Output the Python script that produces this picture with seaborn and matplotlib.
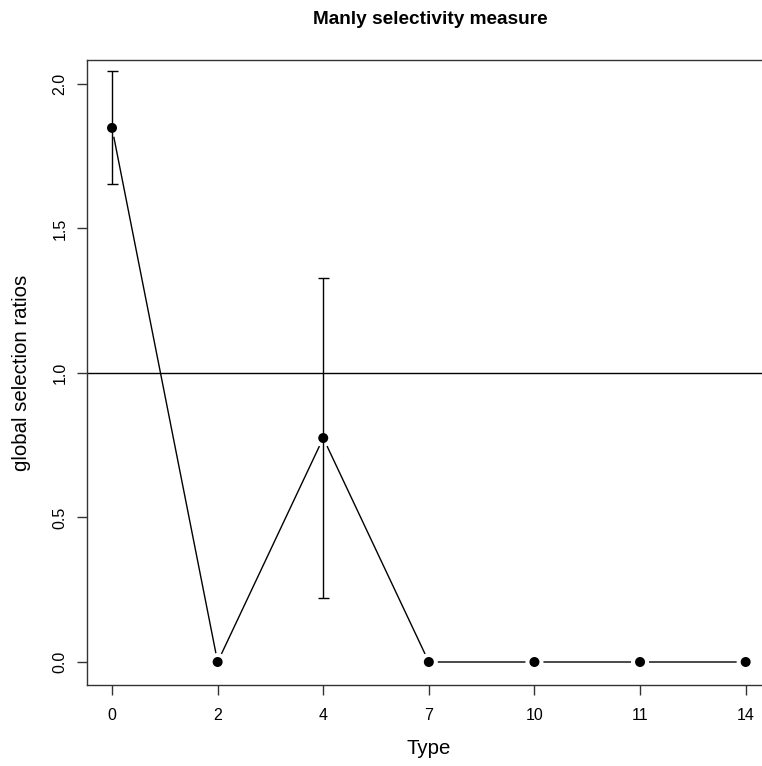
import numpy as np
import pandas as pd
import matplotlib
matplotlib.use("Agg")
import matplotlib.pyplot as plt
import seaborn as sns

# ---- data ----
types = ["0", "2", "4", "7", "10", "11", "14"]
ratios = [1.848, 0.0, 0.775, 0.0, 0.0, 0.0, 0.0]
upper = [2.045, np.nan, 1.329, np.nan, np.nan, np.nan, np.nan]
lower = [1.654, np.nan, 0.221, np.nan, np.nan, np.nan, np.nan]

sns.set_style("white")
plt.rcParams["font.family"] = ["Liberation Sans", "DejaVu Sans"]
plt.rcParams["text.color"] = "black"
plt.rcParams["xtick.labelcolor"] = "black"
plt.rcParams["ytick.labelcolor"] = "black"

df = pd.DataFrame({"type": types, "ratio": ratios, "up": upper, "lo": lower})
df["pos"] = np.arange(1, len(types) + 1)

fig = plt.figure(figsize=(7.62, 7.66), dpi=100)
ax = fig.add_axes([87 / 762, 1 - 685 / 766, (771 - 87) / 762, (685 - 60) / 766])

# connecting line (R type="b": gaps around points)
sns.lineplot(data=df, x="pos", y="ratio", ax=ax, color="black", lw=1.0,
             zorder=1, sort=False)
# white halo to create gaps
sns.scatterplot(data=df, x="pos", y="ratio", ax=ax, s=13.0 ** 2, color="white",
                edgecolor="none", zorder=2, legend=False)
# points
sns.scatterplot(data=df, x="pos", y="ratio", ax=ax, s=7.2 ** 2, color="black",
                edgecolor="none", zorder=4, legend=False)

# error bars
eb = df.dropna()
ax.vlines(eb["pos"], eb["lo"], eb["up"], color="black", lw=1.0, zorder=3)
cap = 0.052
ax.hlines(eb["up"], eb["pos"] - cap, eb["pos"] + cap, color="black", lw=1.0, zorder=3)
ax.hlines(eb["lo"], eb["pos"] - cap, eb["pos"] + cap, color="black", lw=1.0, zorder=3)

# reference line
ax.axhline(1.0, color="black", lw=1.0, zorder=1)

ax.set_xlim(0.763, 7.24)
ax.set_ylim(-0.0796, 2.083)
ax.set_xticks(df["pos"])
ax.set_xticklabels(types)
ax.set_yticks([0.0, 0.5, 1.0, 1.5, 2.0])
ax.set_yticklabels(["0.0", "0.5", "1.0", "1.5", "2.0"], rotation=90, va="center")

for s in ax.spines.values():
    s.set_color("#333333")
    s.set_linewidth(1.0)
ax.tick_params(axis="both", direction="out", length=7.2, width=1.0,
               color="#333333", labelcolor="black", labelsize=11.5, pad=9,
               left=True, bottom=True)
ax.tick_params(axis="y", pad=7)

ax.set_xlabel("")
ax.set_ylabel("")
fig.text(429 / 762, 1 - 748 / 766, "Type", ha="center", va="center",
         fontsize=14.7, color="black")
fig.text(22 / 762, 1 - 373 / 766, "global selection ratios", ha="center",
         va="center", rotation=90, fontsize=14.7, color="black")
fig.text(430 / 762, 1 - 20 / 766, "Manly selectivity measure", ha="center",
         va="center", fontsize=13.7, fontweight="bold", color="black")

fig.savefig("out.png", dpi=100)
